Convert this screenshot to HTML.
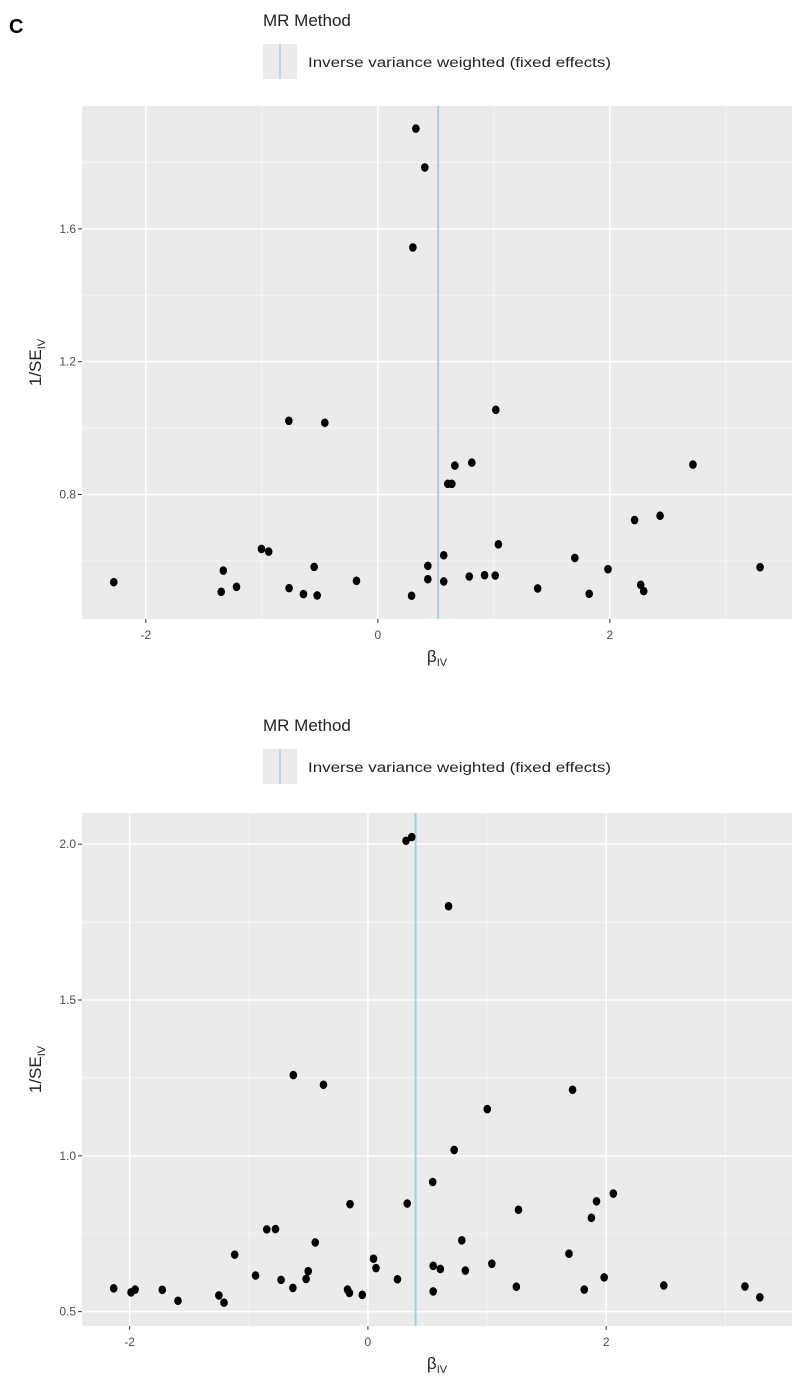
<!DOCTYPE html>
<html><head><meta charset="utf-8">
<style>
body{margin:0;background:#fff;width:800px;height:1384px;overflow:hidden;font-family:"Liberation Sans",sans-serif;}
svg{display:block}
</style></head>
<body>
<svg id="chart" width="800" height="1384" xmlns="http://www.w3.org/2000/svg">
<text x="9" y="33" font-size="20" font-weight="bold" fill="#000">C</text>
</svg>
<script>
// Top panel data
const topBeta = [-2.276,-1.332,-1.35,-1.218,-1.003,-0.941,-0.765,-0.641,-0.523,-0.549,-0.184,0.291,0.431,0.431,0.568,0.568,0.788,0.92,1.012,1.039,1.378,1.698,1.822,1.984,2.213,2.433,2.266,2.292,3.295,0.603,0.638,0.664,0.81,1.017,0.328,0.405,0.302,-0.767,-0.457,2.716];
const topInvSE = [0.536,0.571,0.507,0.522,0.636,0.628,0.518,0.5,0.496,0.582,0.54,0.495,0.545,0.585,0.538,0.617,0.553,0.557,0.556,0.65,0.517,0.609,0.501,0.575,0.723,0.736,0.528,0.509,0.581,0.832,0.832,0.887,0.896,1.055,1.902,1.785,1.544,1.022,1.016,0.89];
const topIVW = [0.52];
const topYTicks = [0.8,1.2,1.6];
const topXTicks = [-2,0,2];
// Bottom panel data
const botBeta = [0.32,0.368,0.677,-0.626,-0.373,1.718,1.002,0.724,0.544,-0.15,0.33,1.264,2.06,1.919,1.876,-0.849,-0.776,-2.134,-1.988,-1.954,-1.726,-1.594,-1.251,-1.208,-1.118,-0.943,-0.729,-0.63,-0.519,-0.501,-0.442,-0.171,-0.155,-0.047,0.047,0.068,0.248,0.548,0.608,0.548,0.788,0.818,1.04,1.246,1.688,1.816,1.983,2.484,3.165,3.29];
const botInvSE = [2.011,2.023,1.801,1.259,1.228,1.212,1.15,1.019,0.916,0.845,0.847,0.827,0.879,0.854,0.801,0.764,0.765,0.575,0.562,0.571,0.57,0.535,0.552,0.529,0.683,0.616,0.602,0.576,0.605,0.63,0.722,0.571,0.56,0.554,0.67,0.64,0.604,0.647,0.637,0.565,0.729,0.632,0.654,0.58,0.686,0.571,0.61,0.584,0.581,0.546];
const botIVW = [0.40];
const botYTicks = ['0.5','1.0','1.5','2.0'];
const botXTicks = [-2,0,2];

const NS='http://www.w3.org/2000/svg';
const svg=document.getElementById('chart');
function mk(tag,attrs,parent){const e=document.createElementNS(NS,tag);for(const k in attrs)e.setAttribute(k,attrs[k]);(parent||svg).appendChild(e);return e;}

function panel(cfg){
  const g=mk('g',{});
  
  
  const L=82,R=792,T=cfg.top,B=cfg.bottom;
  const xs=v=>L+(v-cfg.xmin)/(cfg.xmax-cfg.xmin)*(R-L);
  const ys=v=>B-(v-cfg.ymin)/(cfg.ymax-cfg.ymin)*(B-T);
  // legend
  const lt=mk('text',{x:263,y:cfg.legY,'font-size':17,fill:'#222'},g);lt.textContent='MR Method';
  
  const kb=mk('rect',{x:263,y:cfg.legY+18,width:34,height:35,fill:'#ebebeb'},g);
  
  mk('line',{x1:280,x2:280,y1:cfg.legY+18,y2:cfg.legY+53,stroke:'#a6cee3','stroke-width':1.5},g);
  const ll=mk('text',{x:308,y:cfg.legY+41,'font-size':13.5,fill:'#222',textLength:303,lengthAdjust:'spacingAndGlyphs'},g);
  ll.textContent='Inverse variance weighted (fixed effects)';
  
  // background
  const bg=mk('rect',{x:L,y:T,width:R-L,height:B-T,fill:'#ebebeb'},g);
  
  // minor grid
  for(let v=Math.ceil(cfg.xmin);v<=cfg.xmax;v++){ if(v%2!==0) mk('line',{x1:xs(v),x2:xs(v),y1:T,y2:B,stroke:'#f7f7f7','stroke-width':0.8},g);}
  cfg.yminor.forEach(v=>mk('line',{x1:L,x2:R,y1:ys(v),y2:ys(v),stroke:'#f7f7f7','stroke-width':0.8},g));
  // major grid + ticks
  cfg.xticks.forEach(v=>{
    mk('line',{x1:xs(v),x2:xs(v),y1:T,y2:B,stroke:'#fff','stroke-width':1.5},g);
    mk('line',{x1:xs(v),x2:xs(v),y1:B,y2:B+4,stroke:'#333','stroke-width':1},g);
    const t=mk('text',{x:xs(v),y:B+20,'font-size':12,fill:'#4d4d4d','text-anchor':'middle'},g);t.textContent=String(v);
    
  });
  cfg.yticks.forEach(s=>{
    const v=parseFloat(s);
    mk('line',{x1:L,x2:R,y1:ys(v),y2:ys(v),stroke:'#fff','stroke-width':1.5},g);
    mk('line',{x1:L-4,x2:L,y1:ys(v),y2:ys(v),stroke:'#333','stroke-width':1},g);
    const t=mk('text',{x:L-6,y:ys(v)+4,'font-size':12,fill:'#4d4d4d','text-anchor':'end'},g);t.textContent=typeof s==='string'?s:v.toFixed(1);
    
  });
  // IVW line
  cfg.ivw.forEach(v=>{
    const l=mk('line',{x1:xs(v),x2:xs(v),y1:T,y2:B,stroke:'#a6cee3','stroke-width':2},g);
    
  });
  // points
  cfg.bx.forEach((b,i)=>{
    const c=mk('ellipse',{cx:xs(b),cy:ys(cfg.by[i]),rx:3.8,ry:4.3,fill:'#000'},g);
    
  });
  // axis titles
  const xt=mk('text',{x:(L+R)/2,y:B+43,'font-size':17,fill:'#222','text-anchor':'middle'},g);
  xt.innerHTML='β<tspan font-size="11" dy="4">IV</tspan>';
  
  const cy=(T+B)/2;
  const yt=mk('text',{x:0,y:0,'font-size':17,fill:'#222','text-anchor':'middle',transform:`translate(41,${cy}) rotate(-90)`},g);
  yt.innerHTML='1/SE<tspan font-size="11" dy="4">IV</tspan>';
  
}

panel({name:'top-funnel-plot',top:106,bottom:619,xmin:-2.55,xmax:3.57,ymin:0.425,ymax:1.97,legY:26,
  xticks:topXTicks,yticks:topYTicks,yminor:[0.6,1.0,1.4,1.8],ivw:topIVW,bx:topBeta,by:topInvSE});
panel({name:'bottom-funnel-plot',top:813,bottom:1326,xmin:-2.40,xmax:3.56,ymin:0.454,ymax:2.10,legY:731,
  xticks:botXTicks,yticks:botYTicks,yminor:[0.75,1.25,1.75],ivw:botIVW,bx:botBeta,by:botInvSE});
</script>
</body></html>
